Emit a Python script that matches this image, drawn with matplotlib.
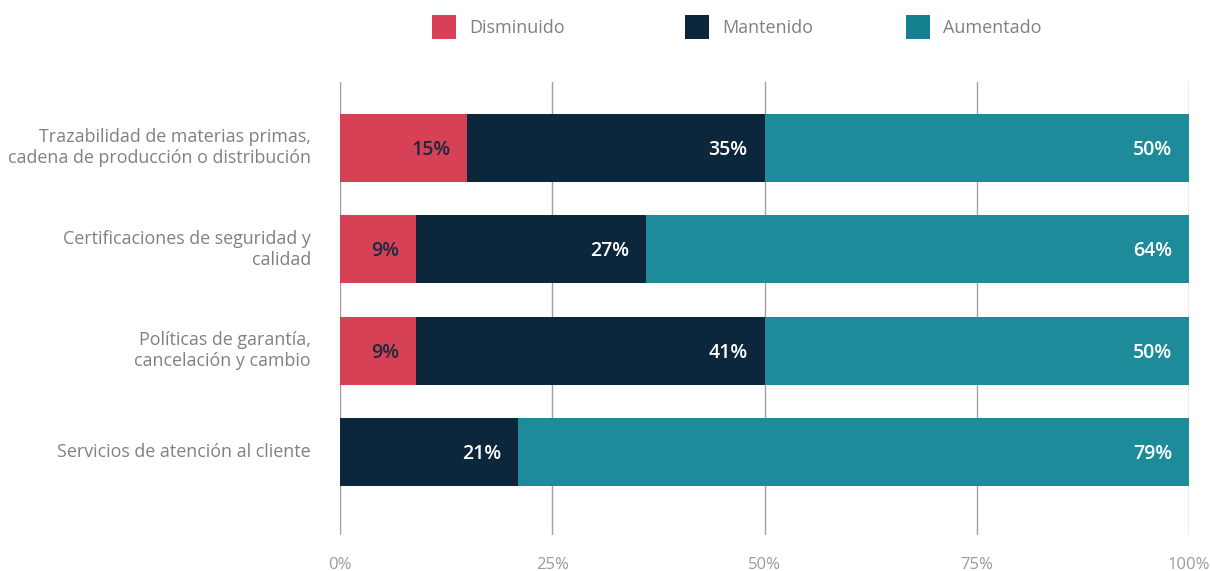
import numpy as np
import matplotlib.pyplot as plt
from matplotlib.patches import Rectangle

plt.rcParams['font.family'] = ['Open Sans', 'DejaVu Sans']

categories = ['Trazabilidad de materias primas,\ncadena de producción o distribución',
              'Certificaciones de seguridad y\ncalidad',
              'Políticas de garantía,\ncancelación y cambio',
              'Servicios de atención al cliente']
disminuido = [15, 9, 9, 0]
mantenido = [35, 27, 41, 21]
aumentado = [50, 64, 50, 79]
series_names = ['Disminuido', 'Mantenido', 'Aumentado']
ticks = [0, 25, 50, 75, 100]
tick_labels = ['0%', '25%', '50%', '75%', '100%']

colors = ['#D64155', '#0C263B', '#1E8B9B']
legend_colors = ['#D64155', '#0C263B', '#11828E']
label_colors = ['#1B2B3D', 'white', 'white']

W, H = 1212, 571
fig = plt.figure(figsize=(W/100, H/100), dpi=100)
ax = fig.add_axes([340/W, 1-535/H, (1189-340)/W, (535-82)/H])

y = np.arange(len(categories))
left = np.zeros(len(categories))
for vals, c, lc in zip([disminuido, mantenido, aumentado], colors, label_colors):
    vals = np.array(vals, dtype=float)
    ax.barh(y, vals, left=left, height=0.67, color=c, zorder=2)
    for yi, l, v in zip(y, left, vals):
        if v > 0:
            ax.text(l + v - 2, yi + 0.02, f'{int(v)}%', ha='right', va='center',
                    color=lc, fontsize=14, fontweight='semibold', zorder=3)
    left += vals

ax.set_xlim(0, 100)
ax.set_ylim(3.82, -0.65)
ax.set_xticks(ticks)
ax.set_xticklabels(tick_labels)
ax.set_yticks(y)
ax.set_yticklabels(categories, ha='right', linespacing=1.22)
ax.tick_params(axis='x', length=0, pad=16, labelsize=12, labelcolor='#9A9A9A')
ax.tick_params(axis='y', length=0, pad=21, labelsize=12.9, labelcolor='#808080')
for lbl in ax.get_yticklabels():
    lbl.set_va('center')
ax.grid(axis='x', color='#A0A0A0', linewidth=1, zorder=0)
for s in ax.spines.values():
    s.set_visible(False)

# legend drawn by hand along the top
legend_x = [432, 685, 906]
for name, c, lx in zip(series_names, legend_colors, legend_x):
    fig.add_artist(Rectangle((lx/W, 1-39/H), 24/W, 24/H, transform=fig.transFigure,
                             facecolor=c, edgecolor='none'))
    fig.text((lx+37)/W, 1-28/H, name, ha='left', va='center', fontsize=13, color='#808080')

fig.savefig('out.png', dpi=100)
